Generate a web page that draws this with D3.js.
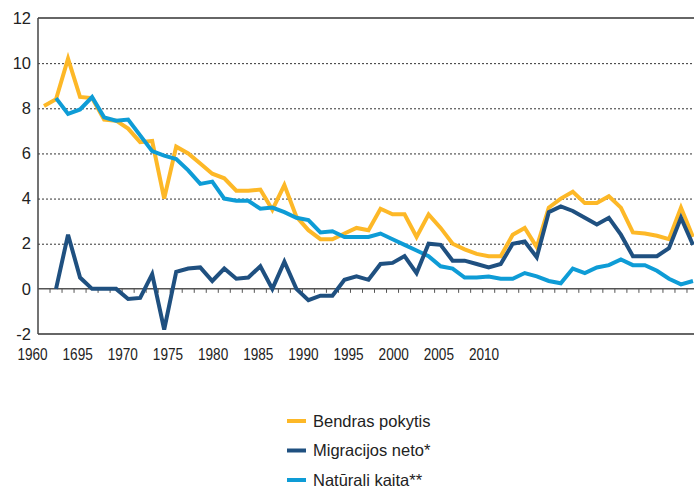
<!DOCTYPE html>
<html>
<head>
<meta charset="utf-8">
<script src="https://cdn.jsdelivr.net/npm/d3@7"></script>
<style>
  body { margin: 0; background: #fff; }
  svg { display: block; font-family: "Liberation Sans", Arial, sans-serif; }
</style>
</head>
<body>
<div id="chart"></div>
<script>
// Years 1960 - 2014
const years = d3.range(1960, 2015);

// Bendras pokytis (1960-2014)
const bendras = [
  8.1, 8.4, 10.2, 8.5, 8.45, 7.5, 7.45, 7.1, 6.5, 6.55,
  4.0, 6.3, 6.0, 5.55, 5.1, 4.9, 4.35, 4.35, 4.4, 3.5,
  4.6, 3.2, 2.6, 2.2, 2.2, 2.45, 2.7, 2.6, 3.55, 3.3,
  3.3, 2.3, 3.3, 2.7, 2.0, 1.75, 1.55, 1.45, 1.45, 2.4,
  2.7, 1.85, 3.6, 4.0, 4.3, 3.8, 3.8, 4.1, 3.6, 2.5,
  2.45, 2.35, 2.2, 3.6, 2.3
];

// Migracijos neto* (1961-2014)
const migracija = [
  null, 0.0, 2.4, 0.5, 0.0, 0.0, 0.0, -0.45, -0.4, 0.65,
  -1.8, 0.75, 0.9, 0.95, 0.35, 0.9, 0.45, 0.5, 1.0, 0.0,
  1.2, 0.0, -0.5, -0.3, -0.3, 0.4, 0.55, 0.4, 1.1, 1.15,
  1.45, 0.7, 2.0, 1.95, 1.25, 1.25, 1.1, 0.95, 1.1, 2.0,
  2.1, 1.4, 3.4, 3.65, 3.45, 3.15, 2.85, 3.15, 2.4, 1.45,
  1.45, 1.45, 1.8, 3.15, 1.95
];

// Natūrali kaita** (1961-2014)
const naturali = [
  null, 8.45, 7.75, 7.95, 8.5, 7.6, 7.45, 7.5, 6.8, 6.1,
  5.9, 5.75, 5.25, 4.65, 4.75, 4.0, 3.9, 3.9, 3.55, 3.6,
  3.4, 3.15, 3.05, 2.5, 2.55, 2.3, 2.3, 2.3, 2.45, 2.2,
  1.95, 1.7, 1.45, 1.0, 0.9, 0.5, 0.5, 0.55, 0.45, 0.45,
  0.7, 0.55, 0.35, 0.25, 0.9, 0.7, 0.95, 1.05, 1.3, 1.05,
  1.05, 0.8, 0.45, 0.2, 0.35
];

// Axis text
const xLabels = ['1960', '1695', '1970', '1975', '1980', '1985', '1990', '1995', '2000', '2005', '2010'];
const yTicks = [-2, 0, 2, 4, 6, 8, 10, 12];
const gridTicks = [2, 4, 6, 8, 10];

const seriesNames = ['Bendras pokytis', 'Migracijos neto*', 'Natūrali kaita**'];
const seriesColors = ['#FDB827', '#1F5080', '#0E9CD6'];
const seriesValues = [bendras, migracija, naturali];

const width = 694, height = 488;
const plot = { left: 38, right: 699, top: 18, bottom: 334 };

const svg = d3.select('#chart').append('svg')
    .attr('width', width)
    .attr('height', height);

const x = d3.scaleBand()
    .domain(years)
    .range([plot.left, plot.right]);

const y = d3.scaleLinear()
    .domain([-2, 12])
    .range([plot.bottom, plot.top]);

// Label positions (evenly spaced, as in the source)
const xl = d3.scalePoint()
    .domain(xLabels)
    .range([32.5, 484]);

// Dashed gridlines
svg.append('g')
    .selectAll('line')
    .data(gridTicks)
    .enter()
    .append('line')
    .attr('x1', plot.left)
    .attr('x2', width)
    .attr('y1', d => y(d) + 0.5)
    .attr('y2', d => y(d) + 0.5)
    .style('stroke', '#333')
    .style('stroke-width', 1)
    .style('stroke-dasharray', '2,2');

// Top and bottom frame lines
svg.append('g')
    .selectAll('line')
    .data([12, -2])
    .enter()
    .append('line')
    .attr('x1', plot.left)
    .attr('x2', width)
    .attr('y1', d => y(d))
    .attr('y2', d => y(d))
    .style('stroke', '#333')
    .style('stroke-width', 1.5);

// Left axis line
svg.append('line')
    .attr('x1', plot.left)
    .attr('x2', plot.left)
    .attr('y1', plot.top)
    .attr('y2', plot.bottom)
    .style('stroke', '#444')
    .style('stroke-width', 1.5);

// Zero line with category ticks
svg.append('line')
    .attr('x1', plot.left)
    .attr('x2', width)
    .attr('y1', y(0))
    .attr('y2', y(0))
    .style('stroke', '#555')
    .style('stroke-width', 1.5);

svg.append('g')
    .selectAll('line')
    .data(years.slice(1))
    .enter()
    .append('line')
    .attr('x1', d => x(d))
    .attr('x2', d => x(d))
    .attr('y1', y(0))
    .attr('y2', y(0) + 4)
    .style('stroke', '#555')
    .style('stroke-width', 1);

// Y tick labels
svg.append('g')
    .selectAll('text')
    .data(yTicks)
    .enter()
    .append('text')
    .attr('x', 31)
    .attr('y', d => y(d))
    .attr('dy', '0.35em')
    .attr('text-anchor', 'end')
    .attr('font-size', '16.5px')
    .style('fill', '#222')
    .text(d => d);

// X tick labels
svg.append('g')
    .selectAll('text')
    .data(xLabels)
    .enter()
    .append('text')
    .attr('transform', d => `translate(${xl(d)},360) scale(0.85,1)`)
    .attr('text-anchor', 'middle')
    .attr('font-size', '16px')
    .style('fill', '#222')
    .text(d => d);

// Lines
const line = d3.line()
    .defined(d => d.v !== null)
    .x(d => x(d.year) + x.bandwidth() / 2)
    .y(d => y(d.v));

svg.append('g')
    .selectAll('path')
    .data([0, 2, 1])
    .enter()
    .append('path')
    .attr('d', i => line(years.map((yr, k) => ({ year: yr, v: seriesValues[i][k] }))))
    .style('fill', 'none')
    .style('stroke', i => seriesColors[i])
    .style('stroke-width', 4)
    .style('stroke-linejoin', 'miter');

// Legend
const legend = svg.append('g')
    .selectAll('g')
    .data(seriesNames)
    .enter()
    .append('g')
    .attr('transform', (d, i) => `translate(287,${421 + i * 29.5})`);

legend.append('line')
    .attr('x1', 0)
    .attr('x2', 19)
    .style('stroke', (d, i) => seriesColors[i])
    .style('stroke-width', 4);

legend.append('text')
    .attr('x', 26)
    .attr('dy', '0.35em')
    .attr('font-size', '16.5px')
    .style('fill', '#222')
    .text(d => d);
</script>
</body>
</html>
